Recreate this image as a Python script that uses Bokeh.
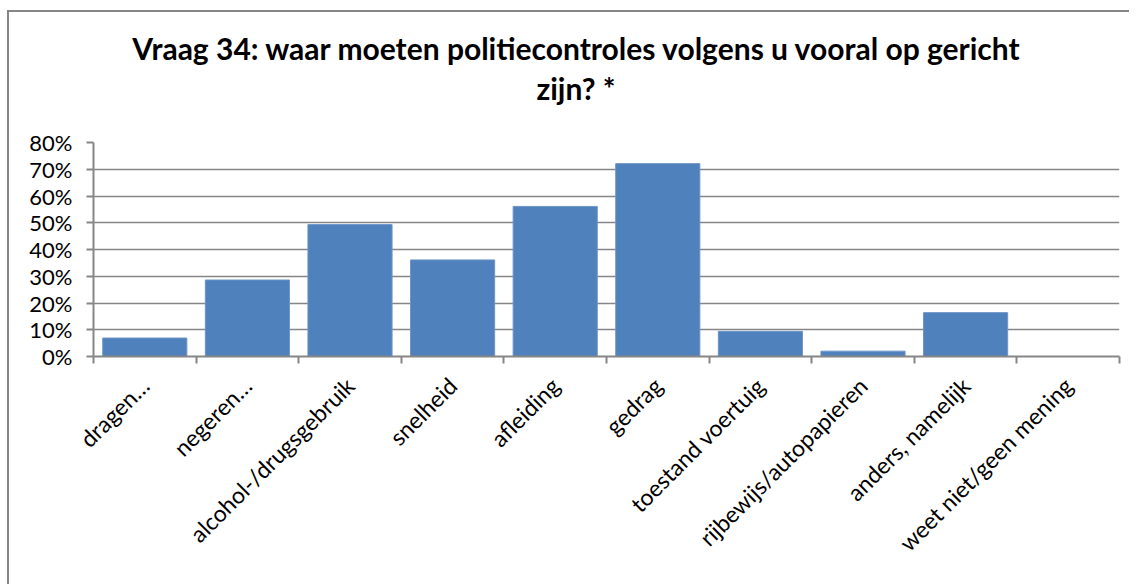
from bokeh.plotting import figure
from bokeh.models import FixedTicker, NumeralTickFormatter, Range1d, Div
from bokeh.layouts import column
from bokeh.embed import file_html
from bokeh.resources import INLINE

categories = ["dragen…", "negeren…", "alcohol-/drugsgebruik", "snelheid", "afleiding",
              "gedrag", "toestand voertuig", "rijbewijs/autopapieren", "anders, namelijk",
              "weet niet/geen mening"]
values = [0.069, 0.286, 0.493, 0.361, 0.561, 0.721, 0.094, 0.020, 0.164, 0.0]
y_ticks = [0.0, 0.1, 0.2, 0.3, 0.4, 0.5, 0.6, 0.7, 0.8]
title_line1 = "Vraag 34: waar moeten politiecontroles volgens u vooral op gericht"
title_line2 = "zijn? *"

n = len(categories)
centers = [i + 0.5 for i in range(n)]
bounds = list(range(n + 1))

FONT = "Lato"
GRAY = "#868686"

title = Div(text=f"{title_line1}<br>{title_line2}", width=1120, height=100, margin=0,
            styles={"font-family": FONT, "font-size": "30px", "font-weight": "bold",
                    "line-height": "40px", "text-align": "center", "color": "#000000",
                    "padding-top": "16px", "padding-left": "14px",
                    "box-sizing": "border-box"})

p = figure(width=1120, height=472, output_backend="svg", toolbar_location=None,
           x_range=Range1d(0, n), y_range=Range1d(0, 0.8), margin=0,
           min_border_left=84, min_border_right=10, min_border_top=30, min_border_bottom=228)
p.title = None

p.vbar(x=centers, top=values, width=0.82, fill_color="#4F81BD", line_color="#6C95C8",
       line_width=1)

p.outline_line_color = None
p.background_fill_color = "white"
p.border_fill_color = "white"

# x axis
xa = p.xaxis[0]
xa.ticker = FixedTicker(ticks=centers, minor_ticks=bounds)
xa.major_label_overrides = {c: lab for c, lab in zip(centers, categories)}
xa.major_tick_line_color = None
xa.minor_tick_line_color = GRAY
xa.minor_tick_line_width = 2
xa.minor_tick_in = 0
xa.minor_tick_out = 7
xa.axis_line_color = GRAY
xa.axis_line_width = 2
xa.major_label_orientation = 0.785398
xa.major_label_text_font = FONT
xa.major_label_text_font_size = "23px"
xa.major_label_text_color = "#000000"
xa.major_label_standoff = 18

# y axis
ya = p.yaxis[0]
ya.ticker = FixedTicker(ticks=y_ticks)
ya.formatter = NumeralTickFormatter(format="0%")
ya.minor_tick_line_color = None
ya.major_tick_line_color = GRAY
ya.major_tick_line_width = 2
ya.major_tick_in = 0
ya.major_tick_out = 7
ya.axis_line_color = GRAY
ya.axis_line_width = 2
ya.major_label_text_font = FONT
ya.major_label_text_font_size = "22px"
ya.major_label_text_color = "#000000"
ya.major_label_standoff = 14

p.xgrid.grid_line_color = None
p.ygrid.ticker = FixedTicker(ticks=y_ticks)
p.ygrid.grid_line_color = GRAY
p.ygrid.grid_line_width = 1.5

layout = column(title, p, spacing=0,
                styles={"border-left": "2px solid #868686", "border-top": "2px solid #868686",
                        "margin-left": "7px", "margin-top": "10px", "background": "white"})

open("out.html", "w").write(file_html(layout, INLINE))
